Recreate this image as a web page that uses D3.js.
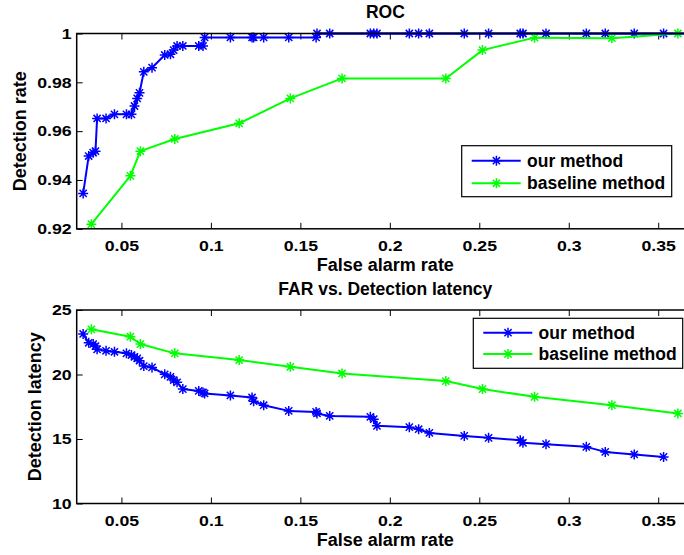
<!DOCTYPE html>
<html>
<head>
<meta charset="utf-8">
<script src="https://cdn.jsdelivr.net/npm/d3@7"></script>
<style>
  body { margin: 0; background: #fff; }
  svg { display: block; font-family: "Liberation Sans", Arial, Helvetica, sans-serif; font-weight: bold; }
</style>
</head>
<body>
<svg id="chart" width="684" height="555"></svg>
<script>

// ---------- data ----------
const ourFar = [0.0286, 0.0317, 0.0342, 0.0355, 0.0364, 0.0414, 0.0461, 0.0528, 0.0556, 0.0573,
                0.0588, 0.0601, 0.0625, 0.0671, 0.0742, 0.0774, 0.0792, 0.0811, 0.0843, 0.0932,
                0.0956, 0.0965, 0.1109, 0.1230, 0.1239, 0.1295, 0.1435, 0.1588, 0.1593, 0.1664,
                0.1891, 0.1910, 0.1928, 0.2109, 0.2161, 0.2221, 0.2416, 0.2552, 0.2729, 0.2744,
                0.2873, 0.3098, 0.3204, 0.3366, 0.3530];
const ourRate = [0.9345, 0.9498, 0.9512, 0.9518, 0.9652, 0.9652, 0.9669, 0.9669, 0.9669, 0.9703,
                 0.9734, 0.9757, 0.9843, 0.9860, 0.9912, 0.9915, 0.9932, 0.9949, 0.9949, 0.9949,
                 0.9949, 0.9984, 0.9984, 0.9984, 0.9984, 0.9984, 0.9984, 0.9984, 1, 1,
                 1, 1, 1, 1, 1, 1, 1, 1, 1, 1,
                 1, 1, 1, 1, 1];
const ourLatency = [23.14, 22.46, 22.36, 22.20, 21.95, 21.84, 21.76, 21.64, 21.51, 21.37,
                    21.25, 21.07, 20.65, 20.55, 20.01, 19.82, 19.57, 19.39, 18.87, 18.73,
                    18.61, 18.53, 18.38, 18.22, 17.93, 17.62, 17.18, 17.10, 16.98, 16.79,
                    16.72, 16.54, 16.02, 15.92, 15.76, 15.47, 15.24, 15.09, 14.91, 14.70,
                    14.60, 14.39, 14.00, 13.80, 13.61];

const baseFar = [0.0332, 0.0550, 0.0606, 0.0798, 0.1158, 0.1444, 0.1733, 0.2313, 0.2518, 0.2809, 0.3241, 0.3610];
const baseRate = [0.9219, 0.9417, 0.9518, 0.9568, 0.9632, 0.9734, 0.9816, 0.9816, 0.9932, 0.9983, 0.9981, 1.0];
const baseLatency = [23.50, 22.93, 22.36, 21.64, 21.12, 20.60, 20.08, 19.49, 18.87, 18.27, 17.62, 16.98];

const seriesNames = ['our method', 'baseline method'];
const seriesColors = ['#0000ff', '#00ff00'];

const xDomain = [0.025, 0.37];
const xTickValues = [0.05, 0.1, 0.15, 0.2, 0.25, 0.3, 0.35];
const xTickLabels = ['0.05', '0.1', '0.15', '0.2', '0.25', '0.3', '0.35'];

const rocDomain = [0.92, 1];
const rocTickValues = [0.92, 0.94, 0.96, 0.98, 1];
const rocTickLabels = ['0.92', '0.94', '0.96', '0.98', '1'];

const latDomain = [10, 25];
const latTickValues = [10, 15, 20, 25];
const latTickLabels = ['10', '15', '20', '25'];

// ---------- layout ----------
const svg = d3.select('#chart');
const left = 76.7, right = 694;   // right edge of the axes falls just outside the picture
const tickStretch = 1.18;

const x = d3.scaleLinear().domain(xDomain).range([left, right]);

const panels = [
    { top: 33.5, bottom: 228.8, domain: rocDomain, ticks: rocTickValues, labels: rocTickLabels,
      title: 'ROC', ylabel: 'Detection rate', ylabelX: 26,
      series: [ { xs: ourFar.concat([0.372]), ys: ourRate.concat([1]) },
                { xs: baseFar, ys: baseRate } ],
      legend: { x: 461.7, y: 145.7, w: 210, h: 51, rows: [15, 37.6] } },
    { top: 310, bottom: 503.5, domain: latDomain, ticks: latTickValues, labels: latTickLabels,
      title: 'FAR vs. Detection latency', ylabel: 'Detection latency', ylabelX: 41,
      series: [ { xs: ourFar, ys: ourLatency },
                { xs: baseFar, ys: baseLatency } ],
      legend: { x: 473.3, y: 318.3, w: 209.4, h: 50, rows: [14.4, 35.7] } }
];

// MATLAB style '*' marker : plus + cross
const star = r => {
    const d = r * 0.72;
    return `M${-r},0H${r}M0,${-r}V${r}M${-d},${-d}L${d},${d}M${-d},${d}L${d},${-d}`;
};

const drawMarkers = (g, pts, color) => {
    g.selectAll(null).data(pts).enter().append('path')
        .attr('transform', d => `translate(${d[0]},${d[1]})`)
        .attr('d', star(5))
        .attr('fill', 'none')
        .attr('stroke', color)
        .attr('stroke-width', 1.5);
};

panels.forEach((p, pi) => {
    const y = d3.scaleLinear().domain(p.domain).range([p.bottom, p.top]);
    const g = svg.append('g').attr('class', 'panel' + pi);

    const clipId = 'clip' + pi;
    g.append('clipPath').attr('id', clipId)
        .append('rect').attr('x', left - 6).attr('y', p.top - 6)
        .attr('width', right - left + 12).attr('height', p.bottom - p.top + 12);

    // axes, ticks pointing inward
    const styleTicks = sel => {
        sel.select('.domain').remove();
        sel.selectAll('line').attr('stroke', '#000').attr('stroke-width', 1);
        sel.selectAll('text').attr('fill', '#000').style('font-size', '15px');
    };

    g.append('g').attr('transform', `translate(0,${p.bottom})`)
        .call(d3.axisBottom(x).tickValues(xTickValues).tickFormat((d, i) => xTickLabels[i])
              .tickSizeInner(-6).tickSizeOuter(0).tickPadding(12))
        .call(styleTicks)
        .selectAll('text').attr('transform', `scale(${tickStretch},1)`);

    g.append('g').attr('transform', `translate(0,${p.top})`)
        .call(d3.axisTop(x).tickValues(xTickValues).tickFormat('')
              .tickSizeInner(-6).tickSizeOuter(0))
        .call(styleTicks);

    g.append('g').attr('transform', `translate(${left},0)`)
        .call(d3.axisLeft(y).tickValues(p.ticks).tickFormat((d, i) => p.labels[i])
              .tickSizeInner(-6).tickSizeOuter(0).tickPadding(5 / tickStretch))
        .call(styleTicks)
        .selectAll('text').attr('transform', `scale(${tickStretch},1)`);

    g.append('g').attr('transform', `translate(${right},0)`)
        .call(d3.axisRight(y).tickValues(p.ticks).tickFormat('')
              .tickSizeInner(-6).tickSizeOuter(0))
        .call(styleTicks);

    // lines and markers
    const plot = g.append('g').attr('clip-path', `url(#${clipId})`);
    const line = d3.line().x(d => d[0]).y(d => d[1]);

    p.series.forEach((s, si) => {
        const pts = s.xs.map((v, i) => [x(v), y(s.ys[i])]);
        plot.append('path')
            .attr('d', line(pts))
            .attr('fill', 'none')
            .attr('stroke', seriesColors[si])
            .attr('stroke-width', 2)
            .attr('stroke-linejoin', 'round');
        drawMarkers(plot, pts, seriesColors[si]);
    });

    // box
    g.append('rect')
        .attr('x', left).attr('y', p.top)
        .attr('width', right - left).attr('height', p.bottom - p.top)
        .attr('fill', 'none').attr('stroke', '#000').attr('stroke-width', 1.5);

    // redraw the 1.0 line of "our method" over the top border (as in the original)
    if (pi === 0) {
        const pts = p.series[0].xs.map((v, i) => [x(v), y(p.series[0].ys[i])]).filter(d => d[1] <= p.top + 0.5);
        plot.append('path').attr('d', line(pts)).attr('fill', 'none')
            .attr('stroke', seriesColors[0]).attr('stroke-width', 2);
    }

    // texts
    const cx = (left + right) / 2;
    g.append('text').attr('x', cx).attr('y', p.top - 15.2)
        .attr('text-anchor', 'middle').style('font-size', '17.5px').text(p.title);

    g.append('text').attr('x', cx).attr('y', p.bottom + 42.2)
        .attr('text-anchor', 'middle').style('font-size', '18px').text('False alarm rate');

    g.append('text')
        .attr('transform', `translate(${p.ylabelX},${(p.top + p.bottom) / 2}) rotate(-90)`)
        .attr('text-anchor', 'middle').style('font-size', '18px').text(p.ylabel);

    // legend
    const L = p.legend;
    const lg = g.append('g').attr('transform', `translate(${L.x},${L.y})`);
    lg.append('rect').attr('width', L.w).attr('height', L.h)
        .attr('fill', '#fff').attr('stroke', '#000').attr('stroke-width', 1.2);

    seriesNames.forEach((name, si) => {
        const ry = L.rows[si];
        lg.append('line').attr('x1', 10).attr('x2', 59).attr('y1', ry).attr('y2', ry)
            .attr('stroke', seriesColors[si]).attr('stroke-width', 2);
        drawMarkers(lg, [[34.7, ry]], seriesColors[si]);
        lg.append('text').attr('x', 65.3).attr('y', ry).attr('dy', '0.35em')
            .style('font-size', '17.5px').text(name);
    });
});

</script>
</body>
</html>
